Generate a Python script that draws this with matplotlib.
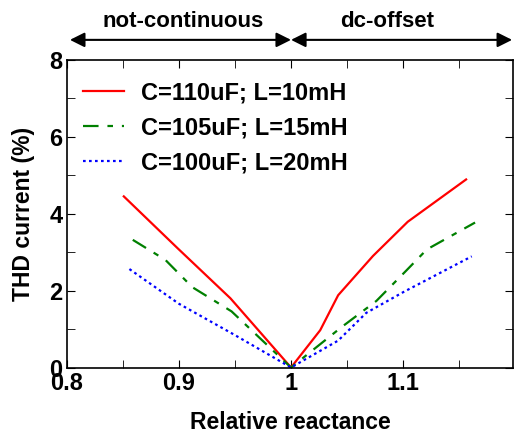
import matplotlib
matplotlib.use('Agg')
import matplotlib.pyplot as plt

plt.rcParams['font.family'] = ['Liberation Sans', 'DejaVu Sans']
plt.rcParams['font.weight'] = 'bold'

# C=110uF; L=10mH
red_x = [0.851, 0.899, 0.946, 1.0, 1.026, 1.042, 1.073, 1.104, 1.156]
red_y = [4.45, 3.10, 1.80, 0.0, 0.97, 1.88, 2.90, 3.79, 4.89]
# C=105uF; L=15mH
green_x = [0.859, 0.888, 0.912, 0.947, 1.0, 1.045, 1.076, 1.102, 1.121, 1.164]
green_y = [3.32, 2.80, 2.09, 1.46, 0.0, 1.05, 1.73, 2.50, 3.07, 3.77]
# C=100uF; L=20mH
blue_x = [0.856, 0.900, 0.949, 1.0, 1.042, 1.067, 1.100, 1.161]
blue_y = [2.56, 1.66, 0.86, 0.0, 0.70, 1.42, 1.96, 2.89]

labels = ['C=110uF; L=10mH', 'C=105uF; L=15mH', 'C=100uF; L=20mH']
regions = ['not-continuous', 'dc-offset']


def graph():
    fig = plt.figure(figsize=(5.2, 4.37), dpi=100)
    ax = fig.add_axes([0.128, 0.159, 0.859, 0.704])
    ax.plot(red_x, red_y, color='#ff0000', lw=1.6, label=labels[0])
    ax.plot(green_x, green_y, color='#008000', lw=1.6, ls=(0, (7, 4, 2.5, 4)), label=labels[1])
    ax.plot(blue_x, blue_y, color='#0000ff', lw=1.6, ls=(0, (1.2, 1.5)), label=labels[2])

    ax.set_xlim(0.8, 1.198)
    ax.set_ylim(0, 8)
    ax.set_xticks([0.8, 0.9, 1.0, 1.1])
    ax.set_xticklabels(['0.8', '0.9', '1', '1.1'])
    ax.set_xticks([0.85, 0.95, 1.05, 1.15], minor=True)
    ax.set_yticks([0, 2, 4, 6, 8])
    ax.set_yticks([1, 3, 5, 7], minor=True)
    ax.tick_params(which='both', direction='in', top=True, right=True, labelsize=17, pad=3)
    ax.tick_params(which='both', length=6)
    for s in ax.spines.values():
        s.set_linewidth(1.2)

    ax.set_xlabel('Relative reactance', fontsize=16.5, fontweight='bold', labelpad=12)
    ax.set_ylabel('THD current (%)', fontsize=16.5, fontweight='bold', labelpad=10)

    ax.legend(loc='upper left', frameon=False, fontsize=17, handlelength=1.75,
              handletextpad=0.7, labelspacing=0.5, borderaxespad=0.0,
              bbox_to_anchor=(0.015, 0.96))

    # region arrows above the axes
    arrow = dict(arrowstyle='<|-|>', color='black', lw=1.5, mutation_scale=22,
                 shrinkA=0, shrinkB=0)
    ax.annotate('', xy=(0.803, 8.52), xytext=(1.0, 8.52), xycoords='data',
                arrowprops=arrow, annotation_clip=False)
    ax.annotate('', xy=(1.0, 8.52), xytext=(1.197, 8.52), xycoords='data',
                arrowprops=arrow, annotation_clip=False)
    ax.text(0.904, 8.86, regions[0], ha='center', va='baseline', fontsize=16,
            fontweight='bold', clip_on=False)
    ax.text(1.086, 8.86, regions[1], ha='center', va='baseline', fontsize=16,
            fontweight='bold', clip_on=False)

    fig.savefig('out.png', dpi=100)


if __name__ == '__main__':
    graph()
